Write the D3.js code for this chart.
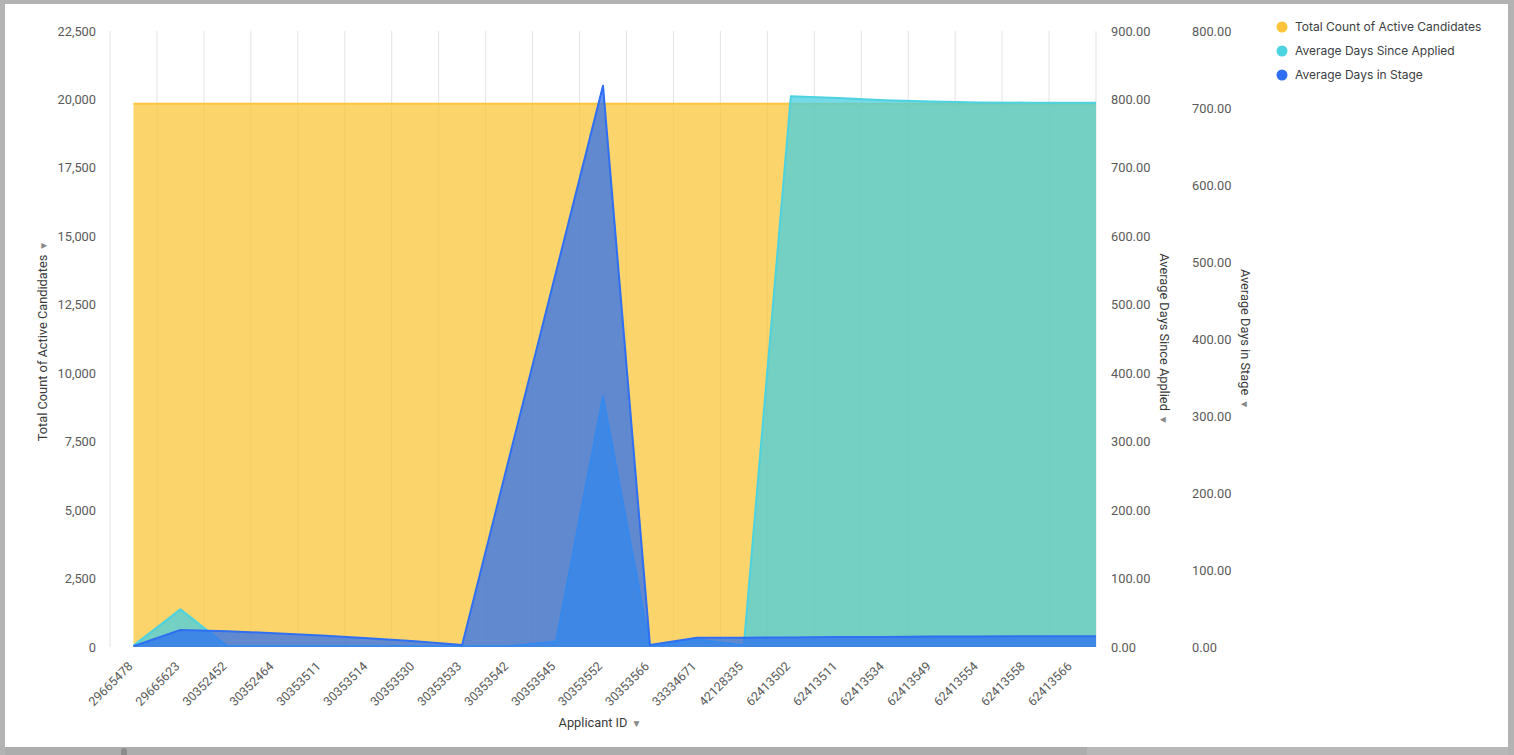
<!DOCTYPE html>
<html>
<head>
<meta charset="utf-8">
<script src="https://cdn.jsdelivr.net/npm/d3@7"></script>
<style>
  html, body { margin: 0; padding: 0; background: #b3b3b3; }
  svg { display: block; }
  text { font-family: Roboto, "Noto Sans", sans-serif; }
</style>
</head>
<body>
<svg id="chart" width="1514" height="755"></svg>
<script>
// ---------------- data ----------------
const categories = ["29665478","29665623","30352452","30352464","30353511","30353514","30353530","30353533","30353542","30353545","30353552","30353566","33334671","42128335","62413502","62413511","62413534","62413549","62413554","62413558","62413566"];
const totalCount = [19840,19840,19840,19840,19840,19840,19840,19840,19840,19840,19840,19840,19840,19840,19840,19840,19840,19840,19840,19840,19840];
const daysSinceApplied = [2,55,1,1,1,1,1,1,1,8,366,0,11,2.5,804.6,802,799,797,795.6,795.3,795.3];
const daysInStage = [1,22,20.5,18,15,11.5,7.5,2.5,245,487,729,2.5,12,12,12.5,13,13,13.5,13.5,14,14];
const leftTicks = [0,2500,5000,7500,10000,12500,15000,17500,20000,22500];
const rightTicks1 = [0,100,200,300,400,500,600,700,800,900];
const rightTicks2 = [0,100,200,300,400,500,600,700,800];
const seriesNames = ["Total Count of Active Candidates","Average Days Since Applied","Average Days in Stage"];
const seriesColors = ["#fac73a","#47cde0","#2d6ff0"];
const lineColors = ["#fcc43a","#4dd2e0","#2f6ff2"];

// ---------------- layout ----------------
const svg = d3.select("#chart");
const W = 1514, H = 755;
const plot = {left: 110, right: 1096, top: 31, bottom: 647};

// frame
svg.append("rect").attr("x",0).attr("y",0).attr("width",W).attr("height",H).attr("fill","#b3b3b3");
svg.append("rect").attr("x",5).attr("y",4).attr("width",1503).attr("height",743).attr("fill","#ffffff");
svg.append("rect").attr("x",5).attr("y",747).attr("width",1082).attr("height",8).attr("fill","#adadad");
svg.append("rect").attr("x",1087).attr("y",747).attr("width",421).attr("height",8).attr("fill","#b7b7b7");
svg.append("rect").attr("x",121).attr("y",748).attr("width",6).attr("height",10).attr("rx",3).attr("fill","#8c8c8c");

// scales
const x = d3.scaleBand().domain(categories).range([plot.left, plot.right]).padding(0);
const yLeft = d3.scaleLinear().domain([0,22500]).range([plot.bottom, plot.top]);
const yR1 = d3.scaleLinear().domain([0,900]).range([plot.bottom, plot.top]);
const yR2 = d3.scaleLinear().domain([0,800]).range([plot.bottom, plot.top]);

// vertical gridlines at band boundaries
const bounds = categories.map(c => x(c)).concat([x.range()[1]]);
svg.append("g").selectAll("line").data(bounds).join("line")
  .attr("x1", d => d).attr("x2", d => d)
  .attr("y1", plot.top).attr("y2", plot.bottom)
  .attr("stroke", "#e3e3e3").attr("stroke-width", 1);

// clip
svg.append("clipPath").attr("id","plotclip").append("rect")
  .attr("x", plot.left).attr("y", plot.top - 5)
  .attr("width", plot.right - plot.left).attr("height", plot.bottom - plot.top + 5);

const g = svg.append("g").attr("clip-path","url(#plotclip)");

function pts(values) {
  const p = values.map((v,i) => [x(categories[i]) + x.bandwidth()/2, v]);
  p.push([x.range()[1], values[values.length-1]]);
  return p;
}

function drawSeries(values, yScale, fill, stroke) {
  const data = pts(values);
  const area = d3.area().x(d => d[0]).y0(yScale(0)).y1(d => yScale(d[1]));
  const line = d3.line().x(d => d[0]).y(d => yScale(d[1]));
  g.append("path").datum(data).attr("d", area)
    .attr("fill", fill).attr("fill-opacity", 0.75);
  g.append("path").datum(data).attr("d", line)
    .attr("fill","none").attr("stroke", stroke).attr("stroke-width", 2)
    .attr("stroke-linejoin","round");
}

drawSeries(totalCount, yLeft, seriesColors[0], lineColors[0]);
drawSeries(daysSinceApplied, yR1, seriesColors[1], lineColors[1]);
drawSeries(daysInStage, yR2, seriesColors[2], lineColors[2]);

// axes
const tickColor = "#5a5a5a";
function styleAxis(sel) {
  sel.select(".domain").remove();
  sel.selectAll(".tick line").remove();
  sel.selectAll("text").attr("fill", tickColor).style("font-size","12.8px")
     .style("font-family","Roboto, sans-serif");
}
svg.append("g").attr("transform",`translate(${96},0)`)
  .call(d3.axisLeft(yLeft).tickValues(leftTicks).tickFormat(d3.format(",")).tickSize(0).tickPadding(0))
  .call(styleAxis);
svg.append("g").attr("transform",`translate(${1111},0)`)
  .call(d3.axisRight(yR1).tickValues(rightTicks1).tickFormat(d3.format(".2f")).tickSize(0).tickPadding(0))
  .call(styleAxis);
svg.append("g").attr("transform",`translate(${1192},0)`)
  .call(d3.axisRight(yR2).tickValues(rightTicks2).tickFormat(d3.format(".2f")).tickSize(0).tickPadding(0))
  .call(styleAxis);

// x axis labels
const xAxis = svg.append("g").attr("transform",`translate(0,${plot.bottom})`)
  .call(d3.axisBottom(x).tickSize(0).tickPadding(0));
xAxis.select(".domain").remove();
xAxis.selectAll(".tick text")
  .attr("fill", tickColor).style("font-size","12.5px")
  .attr("text-anchor","end")
  .attr("dy","0.35em")
  .attr("transform","translate(-3,17) rotate(-45)");

// axis titles
const titleColor = "#3a3a3a";
const midY = (plot.top + plot.bottom)/2;
function title(txt, tx, ty, rot) {
  const t = svg.append("text")
    .attr("transform", `translate(${tx},${ty}) rotate(${rot})`)
    .attr("text-anchor","middle")
    .attr("dy","0.35em")
    .attr("fill", titleColor)
    .style("font-size","12.8px");
  t.append("tspan").text(txt);
  t.append("tspan").attr("fill","#8a8a8a").attr("dx","4").style("font-size","10px").text("\u25BC");
}
title("Total Count of Active Candidates", 43, midY + 2, -90);
title("Average Days Since Applied", 1164, midY, 90);
title("Average Days in Stage", 1245, midY, 90);

// x title
const xt = svg.append("text").attr("x", 600).attr("y", 727)
  .attr("text-anchor","middle").attr("fill", titleColor).style("font-size","12.8px");
xt.append("tspan").text("Applicant ID");
xt.append("tspan").attr("fill","#8a8a8a").attr("dx","4").style("font-size","10px").text("\u25BC");

// legend
const legend = svg.append("g");
seriesNames.forEach((name, i) => {
  const row = legend.append("g").attr("transform", `translate(1282,${27 + i*24})`);
  row.append("circle").attr("r", 5.5).attr("fill", lineColors[i]);
  row.append("text").attr("x", 13).attr("dy","0.35em")
    .attr("fill","#3c4043").style("font-size","12px")
    .style("font-family","Inter, Roboto, sans-serif")
    .text(name);
});
</script>
</body>
</html>
